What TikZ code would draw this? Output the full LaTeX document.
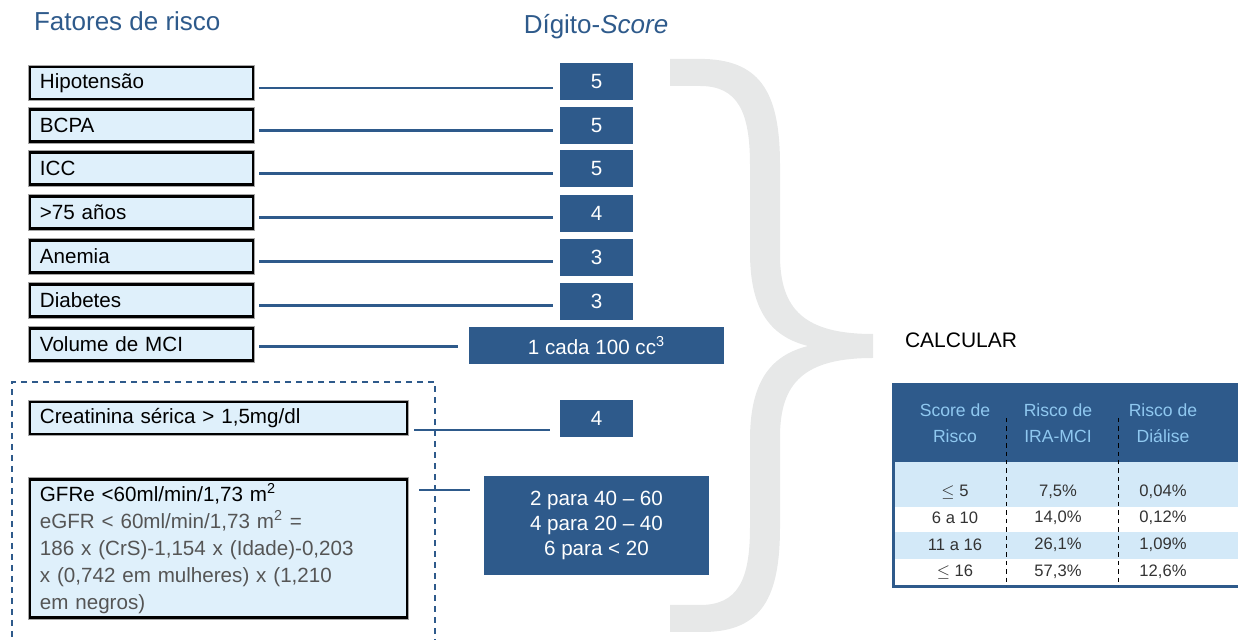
\documentclass[tikz,border=0pt]{standalone}
\usepackage{fontspec}
\setmainfont{Liberation Sans}
\usetikzlibrary{calc}

\definecolor{navy}{HTML}{2E5A8B}
\definecolor{boxfill}{HTML}{DFF0FB}
\definecolor{rowfill}{HTML}{D3E9F8}
\definecolor{bracegray}{HTML}{E7E8E8}
\definecolor{headtext}{HTML}{8FC8F0}
\definecolor{formula}{HTML}{555555}
\definecolor{celltext}{HTML}{333333}

\begin{document}
\begin{tikzpicture}[
    x=0.5pt, y=-0.5pt,
    factor/.style={draw=black, line width=1.4pt, fill=boxfill, anchor=west,
        preaction={draw=black!35, line width=2.2pt},
        minimum height=16pt, text width=101.5pt, inner xsep=5pt, inner ysep=0pt,
        align=left, font=\fontsize{10.3}{12}\selectfont},
    score/.style={fill=navy, text=white, minimum width=36.5pt, minimum height=18.5pt,
        inner sep=0pt, font=\fontsize{10.3}{12}\selectfont},
    link/.style={draw=navy, line width=1.4pt, shorten <=2.5pt, shorten >=3.5pt},
    title/.style={text=navy, font=\fontsize{13}{15}\selectfont},
    cell/.style={text=celltext, font=\fontsize{8.3}{10}\selectfont},
    head/.style={text=headtext, align=center, font=\fontsize{8.8}{13}\selectfont},
]
\useasboundingbox (0,0) rectangle (1238,640);

% titles
\node[title, anchor=west] (t-fat) at (27,21) {Fatores de risco};
\node[title] (t-dig) at (596,27) {Dígito-\textit{Score}};

% fatores
\node[factor] (hipo)   at (28.5,83)    {Hipotensão};
\node[factor] (bcpa)   at (28.5,125.5) {BCPA};
\node[factor] (icc)    at (28.5,168.5) {ICC};
\node[factor] (idade)  at (28.5,212.5) {>75 años};
\node[factor] (anemia) at (28.5,256.5) {Anemia};
\node[factor] (diab)   at (28.5,300.5) {Diabetes};
\node[factor] (vol)    at (28.5,344.5) {Volume de MCI};

\node[factor, text width=178.5pt] (creat) at (28.5,418) {Creatinina sérica > 1,5mg/dl};
\node[factor, text width=178.5pt, minimum height=69pt, font=\fontsize{10.3}{13.5}\selectfont]
    (gfr) at (28.5,548.5)
    {GFRe <60ml/min/1,73 m\textsuperscript{2}\\
     \color{formula}eGFR < 60ml/min/1,73 m\textsuperscript{2} =\\
     \color{formula}186 x (CrS)-1,154 x (Idade)-0,203\\
     \color{formula}x (0,742 em mulheres) x (1,210\\
     \color{formula}em negros)};

% scores
\node[score] (s-hipo)   at (596.5,82)    {5};
\node[score] (s-bcpa)   at (596.5,125.5) {5};
\node[score] (s-icc)    at (596.5,168.5) {5};
\node[score] (s-idade)  at (596.5,213.5) {4};
\node[score] (s-anemia) at (596.5,257.5) {3};
\node[score] (s-diab)   at (596.5,301.5) {3};
\node[score, minimum width=127.5pt] (s-vol) at (596.5,345.5) {1 cada 100 cc\textsuperscript{3}};
\node[score] (s-creat)  at (596.5,418.5) {4};
\node[score, minimum width=112.5pt, minimum height=49.5pt, align=center,
    font=\fontsize{10.3}{12.5}\selectfont] (s-gfr) at (596.5,525.5)
    {2 para 40 -- 60\\4 para 20 -- 40\\6 para < 20};

% ligacoes
\foreach \f in {hipo,bcpa,icc,idade,anemia,diab}
    \draw[link] ([yshift=-2.5pt]\f.east) -- ([yshift=-2.5pt]\f.east -| s-\f.west);
\draw[link, shorten >=5.5pt] ([yshift=-1pt]vol.east) -- ([yshift=-1pt]vol.east -| s-vol.west);
\draw[link, shorten <=3pt, shorten >=5pt] ([yshift=-6pt]creat.east) -- ([yshift=-6pt]creat.east -| s-creat.west);
\draw[link, shorten <=5.5pt, shorten >=7pt] ([yshift=-6pt]gfr.north east) -- ([yshift=-6pt]gfr.north east -| s-gfr.west);

% grupo creatinina / GFR
\draw[navy, line width=1.2pt, dash pattern=on 3pt off 2.5pt] (435,645) |- (12,382) -- (12,645);

% chave
\fill[bracegray] (670,59) -- (705,59) .. controls (762,61) and (780,95) .. (780,165)
    -- (780,255) .. controls (780,310) and (805,334) .. (873,334)
    -- (873,358) .. controls (805,358) and (780,382) .. (780,437)
    -- (780,527) .. controls (780,597) and (762,631) .. (705,632)
    -- (670,632) -- (670,605) -- (700,605) .. controls (738,605) and (750,580) .. (750,527)
    -- (750,440) .. controls (750,385) and (768,356) .. (808,346)
    .. controls (768,336) and (750,307) .. (750,252)
    -- (750,165) .. controls (750,112) and (738,86) .. (700,86)
    -- (670,86) -- cycle;

\node[anchor=west, font=\fontsize{10.5}{12}\selectfont] (calc) at (898,340) {CALCULAR};

% tabela
\fill[navy] (893,385) rectangle (1238,462);
\fill[rowfill] (895,462) rectangle (1238,507);
\fill[white]   (895,507) rectangle (1238,532);
\fill[rowfill] (895,532) rectangle (1238,559);
\fill[white]   (895,559) rectangle (1238,586);
\draw[navy, line width=1.5pt] (1238,587) -- (893,587) -- (893,385) -- (1238,385);
\draw[black, line width=0.5pt, dash pattern=on 2.2pt off 2pt] (1006,418) -- (1006,586);
\draw[black, line width=0.5pt, dash pattern=on 2.2pt off 2pt] (1118,418) -- (1118,586);

\node[head] (h1) at (955,423)  {Score de\\Risco};
\node[head] (h2) at (1058,423) {Risco de\\IRA-MCI};
\node[head] (h3) at (1163,423) {Risco de\\Diálise};

\node[cell] (r1a) at (955,492)  {$\leq$ 5};
\node[cell] (r1b) at (1058,492) {7,5\%};
\node[cell] (r1c) at (1163,492) {0,04\%};
\node[cell] (r2a) at (955,518)  {6 a 10};
\node[cell] (r2b) at (1058,518) {14,0\%};
\node[cell] (r2c) at (1163,518) {0,12\%};
\node[cell] (r3a) at (955,545)  {11 a 16};
\node[cell] (r3b) at (1058,545) {26,1\%};
\node[cell] (r3c) at (1163,545) {1,09\%};
\node[cell] (r4a) at (955,572)  {$\leq$ 16};
\node[cell] (r4b) at (1058,572) {57,3\%};
\node[cell] (r4c) at (1163,572) {12,6\%};

\end{tikzpicture}
\end{document}
